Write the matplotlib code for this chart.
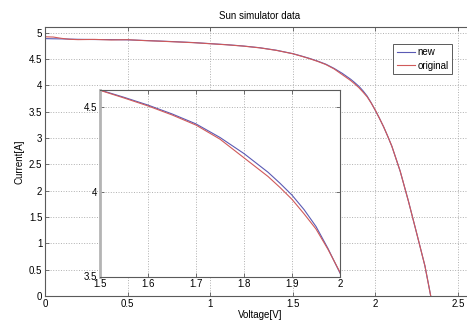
import numpy as np
import matplotlib
matplotlib.use("Agg")
import matplotlib.pyplot as plt

plt.rcParams['font.family'] = ['Liberation Sans', 'DejaVu Sans']

voltage = [0.0, 0.05, 0.1, 0.15, 0.2, 0.3, 0.4, 0.5, 0.6, 0.7, 0.8, 0.9, 1.0,
           1.1, 1.2, 1.3, 1.4, 1.5, 1.55, 1.6, 1.65, 1.7, 1.75, 1.8, 1.85,
           1.875, 1.9, 1.925, 1.95, 1.975, 2.0, 2.025, 2.05, 2.075, 2.1,
           2.15, 2.2, 2.25, 2.3, 2.335]
current_new = [4.885, 4.882, 4.88, 4.876, 4.872, 4.868, 4.866, 4.862, 4.85, 4.838,
               4.825, 4.81, 4.79, 4.77, 4.745, 4.712, 4.665, 4.60, 4.557, 4.511,
               4.459, 4.400, 4.320, 4.225, 4.115, 4.05, 3.98, 3.895, 3.795,
               3.665, 3.52, 3.37, 3.21, 3.03, 2.84, 2.37, 1.80, 1.19, 0.57, 0.0]
current_orig = [4.92, 4.915, 4.89, 4.872, 4.866, 4.87, 4.86, 4.865, 4.848, 4.836,
                4.822, 4.808, 4.788, 4.768, 4.743, 4.71, 4.662, 4.598, 4.553, 4.506,
                4.453, 4.393, 4.310, 4.200, 4.090, 4.025, 3.955, 3.87, 3.78,
                3.66, 3.525, 3.37, 3.21, 3.03, 2.84, 2.37, 1.80, 1.19, 0.57, 0.0]

main_xticks = [0, 0.5, 1, 1.5, 2, 2.5]
main_yticks = [0, 0.5, 1, 1.5, 2, 2.5, 3, 3.5, 4, 4.5, 5]
inset_xticks = [1.5, 1.6, 1.7, 1.8, 1.9, 2]
inset_yticks = [3.5, 4, 4.5]

blue = '#5a5ab4'
red = '#d05a5a'
axcol = '#5a5a5a'
fs = 7

W, H = 467, 322
fig = plt.figure(figsize=(W / 100, H / 100), dpi=100)

def frac(l, r, b, t):
  return [l / W, 1 - b / H, (r - l) / W, (b - t) / H]

def style_axes(ax):
  for s in ax.spines.values():
    s.set_color(axcol)
    s.set_linewidth(0.8)
  ax.tick_params(direction='in', length=3, width=0.6, color=axcol,
                 labelsize=fs, pad=2, top=True, right=True)
  ax.grid(True, linestyle=':', color='#b0b0b0', linewidth=0.7)

ax = fig.add_axes(frac(45, 474.5, 296, 27.3))
ax.plot(voltage, current_new, color=blue, lw=0.8, label='new')
ax.plot(voltage, current_orig, color=red, lw=0.8, label='original')
ax.set_xlim(0, 2.6)
ax.set_ylim(0, 5.1)
ax.set_xticks(main_xticks)
ax.set_xticklabels(['0', '0.5', '1', '1.5', '2', '2.5'])
ax.set_yticks(main_yticks)
ax.set_yticklabels(['0', '0.5', '1', '1.5', '2', '2.5', '3', '3.5', '4', '4.5', '5'])
style_axes(ax)
ax.set_title('Sun simulator data', fontsize=fs, pad=6)
ax.set_xlabel('Voltage[V]', fontsize=fs, labelpad=1)
ax.set_ylabel('Current[A]', fontsize=fs, labelpad=3)
leg = ax.legend(loc='upper right', bbox_to_anchor=(451.7 / W, 1 - 44 / H),
                bbox_transform=fig.transFigure, fontsize=fs, fancybox=False,
                framealpha=1, edgecolor=axcol, handlelength=1.9,
                handletextpad=0.2, borderpad=0.35, labelspacing=0.35,
                borderaxespad=0)
leg.get_frame().set_linewidth(0.7)

ins = fig.add_axes(frac(100, 340, 276.5, 90))
ins.plot(voltage, current_new, color=blue, lw=0.8)
ins.plot(voltage, current_orig, color=red, lw=0.8)
ins.set_xlim(1.5, 2)
ins.set_ylim(3.5, 4.6)
ins.set_xticks(inset_xticks)
ins.set_xticklabels(['1.5', '1.6', '1.7', '1.8', '1.9', '2'])
ins.set_yticks(inset_yticks)
ins.set_yticklabels(['3.5', '4', '4.5'])
style_axes(ins)
ins.spines['left'].set_color('#b4b4b4')
ins.spines['left'].set_linewidth(2)

fig.savefig('out.png', dpi=100)
